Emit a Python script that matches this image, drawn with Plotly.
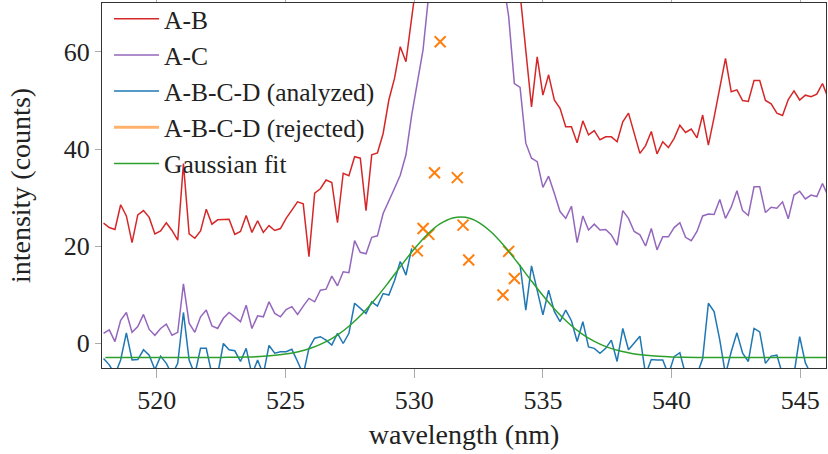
import plotly.graph_objects as go

# wavelength sampling grid (nm)
wl_start = 517.93
wl_step = 0.2217
n_points = 128
wavelength = [round(wl_start + wl_step * i, 3) for i in range(n_points)]

ab = [24.7, 23.8, 23.4, 28.5, 26.2, 20.7, 26.4, 27.3, 25.9, 22.5,
      23.1, 24.8, 23.2, 21.2, 37.0, 22.5, 21.6, 23.1, 27.6, 24.5,
      25.4, 25.5, 25.5, 22.4, 23.0, 26.3, 22.8, 25.2, 22.8, 24.2,
      23.2, 23.6, 25.7, 27.4, 29.1, 28.7, 17.8, 30.9, 31.8, 33.6,
      33.1, 24.8, 35.0, 34.5, 38.4, 38.1, 27.3, 38.8, 39.2, 43.2,
      50.1, 54.6, 61.1, 58.0, 66.6, 75, 85, 98, 112, 125,
      135, 140, 138, 132, 122, 110, 100, 92, 86, 82,
      78, 76, 76, 72, 60, 48.7, 59.0, 51.1, 55.3, 50.1,
      48.4, 44.6, 44.6, 41.3, 45.8, 42.9, 43.8, 41.9, 42.5, 42.5,
      41.5, 45.6, 47.4, 43.2, 39.1, 40.7, 43.6, 39.0, 41.5, 40.3,
      42.2, 44.9, 43.4, 44.1, 42.3, 47.0, 40.8, 46.5, 53.0, 58.7,
      51.8, 52.2, 50.0, 49.8, 54.1, 54.1, 50.0, 49.3, 47.4, 46.9,
      50.2, 52.0, 50.1, 51.1, 50.8, 51.3, 53.5, 50.4]

ac = [2.0, 2.7, 0.3, 4.7, 6.3, 2.2, 3.4, 5.9, 2.8, 1.6,
      3.0, 3.9, 1.6, 2.2, 12.2, 4.1, 2.2, 5.4, 6.8, 3.5,
      3.0, 5.1, 6.3, 5.4, 4.4, 7.8, 3.0, 5.6, 5.4, 8.5,
      6.1, 5.4, 6.9, 7.5, 5.9, 7.6, 9.2, 8.5, 10.9, 11.1,
      13.8, 11.8, 14.7, 14.5, 21.1, 18.7, 18.4, 21.8, 22.1, 26.7,
      29.5, 31.9, 34.6, 38.8, 47.0, 53.5, 60.5, 72, 85, 100,
      115, 125, 130, 128, 120, 110, 100, 92, 86, 80,
      75, 67.3, 53.5, 52.7, 41.2, 38.1, 37.4, 32.1, 34.4, 30.9,
      27.1, 25.7, 28.2, 20.7, 26.2, 23.3, 24.5, 23.3, 23.4, 22.3,
      20.2, 27.3, 25.7, 23.0, 22.3, 20.0, 23.6, 19.2, 21.9, 21.9,
      23.8, 24.8, 21.8, 21.1, 23.0, 26.2, 26.6, 26.5, 29.6, 25.7,
      28.0, 31.4, 27.3, 26.3, 32.2, 32.2, 26.9, 28.0, 27.8, 29.1,
      25.6, 30.5, 31.3, 29.7, 30.5, 30.2, 32.9, 30.2]

abcd_analyzed = [-3.2, -4.5, -6.5, -3.5, 2.1, -3.5, -3.4, -1.4, -2.5, -5.5,
                 -2.7, -4.2, -6.5, -4.2, 6.3, -3.5, -6.5, -1.1, -1.1, -6.5,
                 -6.5, -0.1, -1.4, -1.6, -3.8, -1.1, -6.5, -3.5, -6.5, -0.5,
                 -2.1, -1.8, -1.8, -1.3, -3.8, -6.5, -1.1, 1.0, 1.3, 0.6,
                 -0.4, 2.0, -0.1, 2.0, 8.2, 7.1, 6.1, 8.5, 7.6, 10.2,
                 9.9, 12.9, 16.8, 14.0, 19.5, None, None, None, None, None,
                 None, None, None, None, None, None, None, None, None, None,
                 None, None, None, 16.1, 6.8, 15.9, 10.9, 5.8, 10.9, 6.5,
                 4.4, 6.8, 4.6, 0.3, 4.4, -0.8, -1.1, -2.1, -1.1, 0.6,
                 -3.8, 3.0, -1.4, -0.1, 1.4, -6.5, -3.4, -3.5, -3.5, -6.5,
                 -2.8, -2.0, -6.5, -6.5, -6.5, -3.2, 8.2, 6.5, 0.6, -6.5,
                 -1.8, 2.1, -2.1, -3.8, 3.0, 2.3, -4.2, -2.7, -2.5, -6.5,
                 -6.5, -6.5, 1.3, -4.1, -6.5, -6.5, -6.5, -6.5]

rejected_index = [55, 56, 57, 58, 59, 62, 63, 64, 70, 71, 72]
rejected_values = [19.0, 23.6, 22.4, 35.1, 62.1, 34.1, 24.3, 17.1, 9.9, 18.9, 13.3]

fit_wavelength = [518.0, 518.5, 519.0, 519.5, 520.0, 520.5, 521.0, 521.5, 522.0, 522.5,
                  523.0, 523.5, 524.0, 524.5, 525.0, 525.5, 526.0, 526.5, 527.0, 527.5,
                  528.0, 528.5, 529.0, 529.5, 530.0, 530.5, 531.0, 531.5, 532.0, 532.5,
                  533.0, 533.5, 534.0, 534.5, 535.0, 535.5, 536.0, 536.5, 537.0, 537.5,
                  538.0, 538.5, 539.0, 539.5, 540.0, 540.5, 541.0, 541.5, 542.0, 542.5,
                  543.0, 543.5, 544.0, 544.5, 545.0, 545.5, 546.0]
fit_values = [-3.0, -3.0, -3.0, -3.0, -3.0, -3.0, -3.0, -2.99, -2.99, -2.97,
              -2.94, -2.88, -2.78, -2.59, -2.28, -1.79, -1.03, 0.07, 1.59, 3.61,
              6.14, 9.14, 12.49, 16.0, 19.38, 22.33, 24.55, 25.79, 25.91, 24.89,
              22.84, 20.01, 16.69, 13.18, 9.78, 6.70, 4.07, 1.95, 0.34, -0.85,
              -1.66, -2.20, -2.54, -2.75, -2.87, -2.93, -2.97, -2.99, -3.0, -3.0,
              -3.0, -3.0, -3.0, -3.0, -3.0, -3.0, -3.0]

x_ticks = [520, 525, 530, 535, 540, 545]
y_ticks = [0, 20, 40, 60]

FONT = "Liberation Serif"

fig = go.Figure()
fig.add_trace(go.Scatter(x=wavelength, y=ab, mode="lines", name="A-B",
                         line=dict(color="#d62728", width=1.5)))
fig.add_trace(go.Scatter(x=wavelength, y=ac, mode="lines", name="A-C",
                         line=dict(color="#9467bd", width=1.5)))
fig.add_trace(go.Scatter(x=wavelength, y=abcd_analyzed, mode="lines",
                         name="A-B-C-D (analyzed)", connectgaps=False,
                         line=dict(color="#1f77b4", width=1.5)))
fig.add_trace(go.Scatter(x=[wavelength[i] for i in rejected_index], y=rejected_values,
                         mode="markers", showlegend=False,
                         marker=dict(symbol="x-thin", size=11, color="#ff7f0e",
                                     line=dict(width=2, color="#ff7f0e"))))
fig.add_trace(go.Scatter(x=[None], y=[None], mode="lines", name="A-B-C-D (rejected)",
                         line=dict(color="#ffb26e", width=3)))
fig.add_trace(go.Scatter(x=fit_wavelength, y=fit_values, mode="lines", name="Gaussian fit",
                         line=dict(color="#2ca02c", width=1.5, shape="spline")))

fig.update_layout(
    width=828, height=454,
    margin=dict(l=102, r=2, t=3, b=86, autoexpand=False),
    paper_bgcolor="white", plot_bgcolor="white",
    font=dict(family=FONT, size=26, color="#222"),
    showlegend=True,
    legend=dict(x=0.0097, y=1.02, xanchor="left", yanchor="top",
                bgcolor="rgba(0,0,0,0)", borderwidth=0,
                font=dict(family=FONT, size=25.5, color="#222"),
                itemwidth=45, tracegroupgap=0),
    xaxis=dict(range=[517.87, 546.0], tickvals=x_ticks, ticks="outside", ticklen=9,
               tickcolor="#aaa", tickwidth=1.2, showline=True, linecolor="#333",
               linewidth=1, mirror="ticks", showgrid=False, zeroline=False,
               automargin=False,
               tickfont=dict(family=FONT, size=26),
               title=dict(text="wavelength (nm)", font=dict(family=FONT, size=28), standoff=10)),
    yaxis=dict(range=[-5.15, 70.1], tickvals=y_ticks, ticks="outside", ticklen=6,
               tickcolor="#aaa", tickwidth=1.2, showline=True, linecolor="#333",
               linewidth=1, mirror=True, showgrid=False, zeroline=False,
               automargin=False,
               tickfont=dict(family=FONT, size=26),
               title=dict(text="intensity (counts)", font=dict(family=FONT, size=28), standoff=24)),
)

fig.write_html("out.html", config={"displayModeBar": False},
               post_script="document.body.style.margin='0px';")
